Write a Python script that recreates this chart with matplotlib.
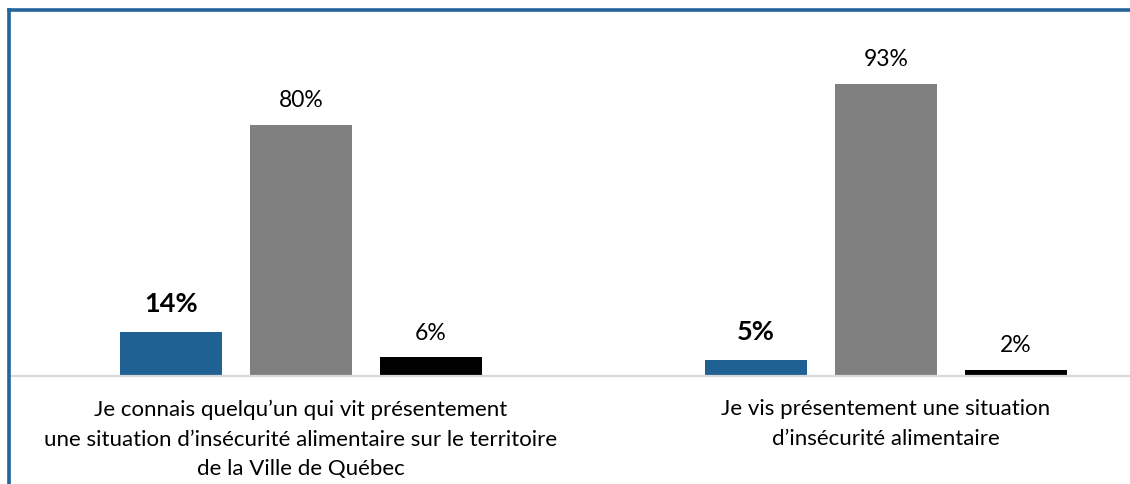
import matplotlib
matplotlib.use('Agg')
import matplotlib.pyplot as plt
from matplotlib.lines import Line2D
import numpy as np

# chart data
categories = ["Je connais quelqu\u2019un qui vit présentement\nune situation d\u2019insécurité alimentaire sur le territoire\nde la Ville de Québec",
              "Je vis présentement une situation\nd\u2019insécurité alimentaire"]
series_oui = [14, 5]
series_non = [80, 93]
series_nsp = [6, 2]
colors = ['#1F6192', '#808080', '#000000']

plt.rcParams['font.family'] = ['Lato', 'DejaVu Sans']

W, H = 1130, 485
fig = plt.figure(figsize=(W / 100, H / 100), dpi=100)
fig.patch.set_facecolor('white')

# axes placed in pixel terms: baseline at y=377, left at x=11
left_px, right_px = 11, 1130
base_px, top_px = 377, 12
ax = fig.add_axes([left_px / W, (H - base_px) / H, (right_px - left_px) / W, (base_px - top_px) / H])

px_per_pct = 3.14
group_px = [301, 886]
step = 585.0
x = np.arange(len(categories))
off = 130 / step
bw = 102 / step

ax.set_xlim((left_px - group_px[0]) / step, (right_px - group_px[0]) / step)
ax.set_ylim(0, (base_px - top_px) / px_per_pct)

for i, (vals, c) in enumerate(zip([series_oui, series_non, series_nsp], colors)):
    bars = ax.bar(x + (i - 1) * off, vals, width=bw, color=c, zorder=2)
    for b, v in zip(bars, vals):
        if i == 0:
            ax.text(b.get_x() + b.get_width() / 2, v + 29 / px_per_pct, f"{v}%",
                    ha='center', va='center', fontsize=19.5, fontweight='bold')
        else:
            ax.text(b.get_x() + b.get_width() / 2, v + 25 / px_per_pct, f"{v}%",
                    ha='center', va='center', fontsize=16.5)

for s in ['top', 'right', 'left']:
    ax.spines[s].set_visible(False)
ax.spines['bottom'].set_color('#D9D9D9')
ax.spines['bottom'].set_linewidth(1.6)
ax.set_yticks([])
ax.set_xticks(x)
ax.set_xticklabels(categories, fontsize=16, linespacing=1.62)
ax.tick_params(axis='x', length=0, pad=16)

# blue frame on top and left
border = '#23649B'
fig.add_artist(Line2D([9 / W, 1.0], [1 - 10.5 / H, 1 - 10.5 / H], color=border, lw=2.6, transform=fig.transFigure))
fig.add_artist(Line2D([9 / W, 9 / W], [0, 1 - 10.5 / H], color=border, lw=2.6, transform=fig.transFigure,
                      solid_capstyle='projecting'))

fig.savefig('out.png', dpi=100, facecolor='white')
